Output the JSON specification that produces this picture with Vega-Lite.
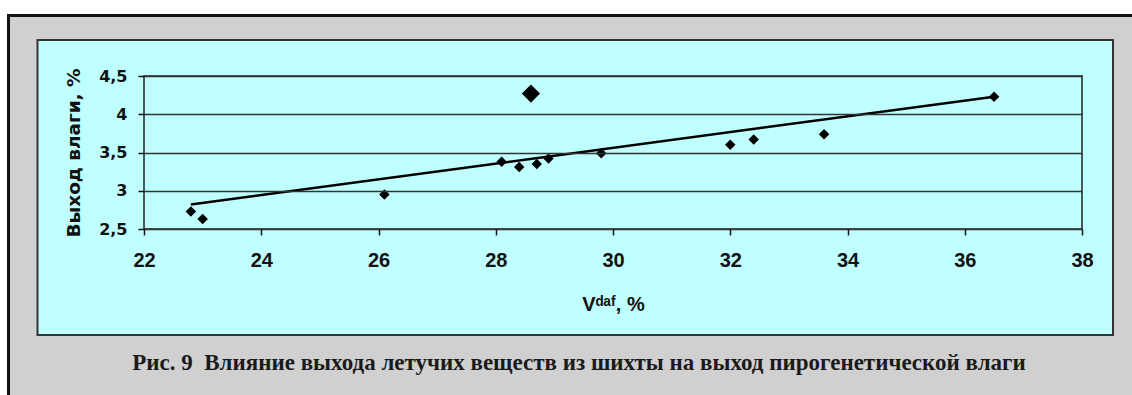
{
  "$schema": "https://vega.github.io/schema/vega-lite/v6.json",
  "width": 938,
  "height": 153,
  "autosize": {"type": "none"},
  "padding": {"left": 144, "top": 76, "right": 50, "bottom": 166},
  "background": "#ffffff",
  "config": {"view": {"stroke": null}},
  "datasets": {
    "points": [
      {"V": 22.8, "W": 2.73, "group": "main"},
      {"V": 23.0, "W": 2.63, "group": "main"},
      {"V": 26.1, "W": 2.95, "group": "main"},
      {"V": 28.1, "W": 3.38, "group": "main"},
      {"V": 28.4, "W": 3.31, "group": "main"},
      {"V": 28.7, "W": 3.35, "group": "main"},
      {"V": 28.9, "W": 3.42, "group": "main"},
      {"V": 28.6, "W": 4.27, "group": "outlier"},
      {"V": 29.8, "W": 3.49, "group": "main"},
      {"V": 32.0, "W": 3.6, "group": "main"},
      {"V": 32.4, "W": 3.67, "group": "main"},
      {"V": 33.6, "W": 3.74, "group": "main"},
      {"V": 36.5, "W": 4.23, "group": "main"}
    ],
    "trend": [
      {"V": 22.8, "W": 2.82},
      {"V": 36.5, "W": 4.23}
    ],
    "panel": [{}]
  },
  "title": {
    "text": "Рис. 9\u00a0 Влияние выхода летучих веществ из шихты на выход пирогенетической влаги",
    "orient": "bottom",
    "frame": "group",
    "anchor": "middle",
    "font": "Liberation Serif",
    "fontSize": 23,
    "fontWeight": "bold",
    "color": "#1a1a1a",
    "offset": 0,
    "dx": -34,
    "dy": -54
  },
  "layer": [
    {
      "data": {"name": "panel"},
      "mark": {"type": "rect", "clip": false, "fill": "#d0d0d0", "stroke": "#111111", "strokeWidth": 3},
      "encoding": {
        "x": {
          "datum": 19.6887,
          "type": "quantitative",
          "scale": {"domain": [22, 38], "nice": false, "zero": false},
          "axis": {
            "values": [22, 24, 26, 28, 30, 32, 34, 36, 38],
            "tickCount": 20,
            "format": "d",
            "labelFlush": false,
            "labelOverlap": false,
            "grid": false,
            "domain": false,
            "tickSize": 6,
            "tickColor": "#111111",
            "tickWidth": 1.5,
            "labelFont": "Liberation Sans",
            "labelFontWeight": "bold",
            "labelFontSize": 20,
            "labelColor": "#111111",
            "labelPadding": 15,
            "title": "Vᵈᵃᶠ, %",
            "titleFont": "Liberation Sans",
            "titleFontSize": 20,
            "titleFontWeight": "bold",
            "titleColor": "#111111",
            "titlePadding": 24,
            "zindex": 1
          }
        },
        "x2": {"datum": 40},
        "y": {
          "datum": 5.2908,
          "type": "quantitative",
          "scale": {"domain": [2.5, 4.5], "nice": false, "zero": false},
          "axis": {
            "values": [2.5, 3, 3.5, 4, 4.5],
            "tickCount": 10,
            "labelExpr": "replace(format(datum.value, '~g'), '.', ',')",
            "labelFlush": false,
            "labelOverlap": false,
            "grid": true,
            "gridColor": "#333333",
            "gridWidth": 1.5,
            "domain": false,
            "tickSize": 6,
            "tickColor": "#111111",
            "tickWidth": 1.5,
            "labelFont": "DejaVu Sans",
            "labelFontWeight": "bold",
            "labelFontSize": 16,
            "labelColor": "#111111",
            "labelPadding": 11,
            "title": "Выход влаги, %",
            "titleFont": "DejaVu Sans",
            "titleFontSize": 18.5,
            "titleFontWeight": "bold",
            "titleColor": "#111111",
            "titlePadding": 15,
            "zindex": 1
          }
        },
        "y2": {"datum": 0.2}
      }
    },
    {
      "data": {"name": "panel"},
      "mark": {"type": "rect", "clip": false, "fill": "#c0ffff", "stroke": "#333333", "strokeWidth": 2},
      "encoding": {
        "x": {"datum": 20.1834, "type": "quantitative"},
        "x2": {"datum": 38.529},
        "y": {"datum": 4.9706, "type": "quantitative"},
        "y2": {"datum": 1.1144}
      }
    },
    {
      "data": {"name": "panel"},
      "mark": {"type": "rect", "clip": false, "fill": "transparent", "stroke": "#222222", "strokeWidth": 1.5},
      "encoding": {
        "x": {"datum": 22, "type": "quantitative"},
        "x2": {"datum": 38},
        "y": {"datum": 2.5, "type": "quantitative"},
        "y2": {"datum": 4.5}
      }
    },
    {
      "data": {"name": "trend"},
      "mark": {"type": "line", "color": "#000000", "strokeWidth": 2.5},
      "encoding": {
        "x": {"field": "V", "type": "quantitative"},
        "y": {"field": "W", "type": "quantitative"}
      }
    },
    {
      "data": {"name": "points"},
      "mark": {"type": "point", "shape": "diamond", "filled": true, "color": "#000000", "opacity": 1},
      "encoding": {
        "x": {"field": "V", "type": "quantitative"},
        "y": {"field": "W", "type": "quantitative"},
        "size": {
          "field": "group",
          "type": "nominal",
          "scale": {"domain": ["main", "outlier"], "range": [110, 330]},
          "legend": null
        }
      }
    }
  ]
}
